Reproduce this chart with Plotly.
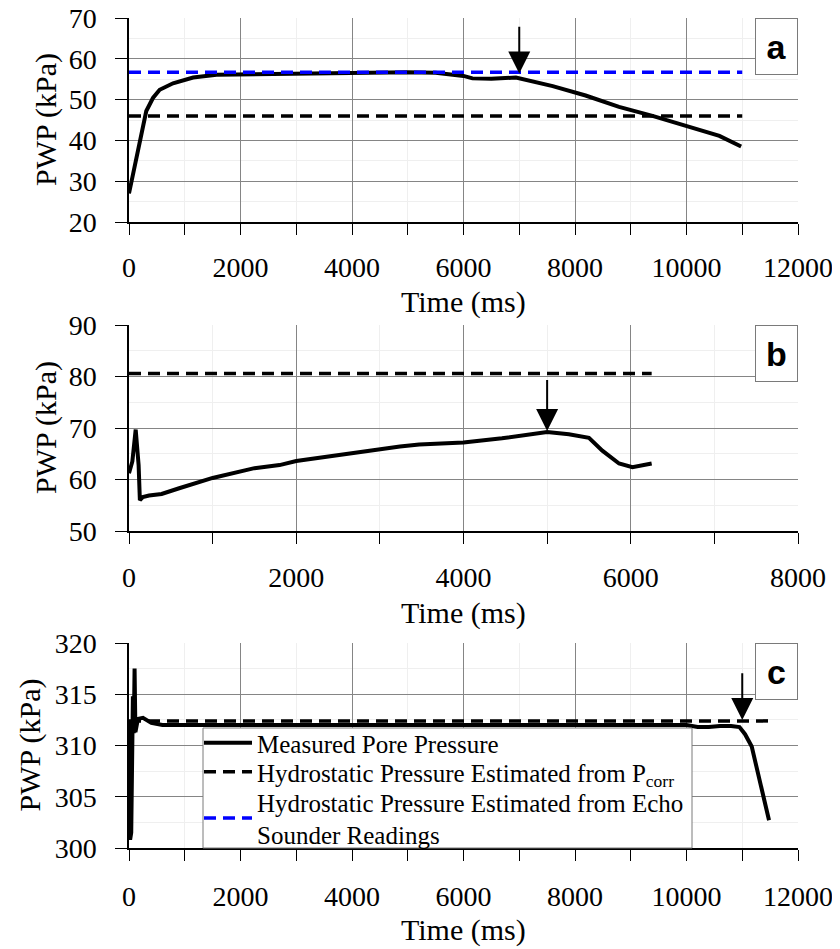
import plotly.graph_objects as go

# ---------------- data ----------------
a_time = [0, 70, 190, 310, 430, 550, 790, 1150, 1570, 2000, 3000, 4000, 5000, 5500, 6000, 6160, 6500, 6940,
          7600, 8190, 8790, 9390, 9990, 10590, 10980]
a_pwp = [27.0, 31.8, 40.0, 47.2, 50.4, 52.4, 54.0, 55.4, 56.1, 56.2, 56.3, 56.5, 56.7, 56.6, 55.8, 55.2, 55.1, 55.4,
         53.3, 51.0, 48.2, 46.0, 43.5, 41.1, 38.5]
a_hydro_time = [0, 11000]
a_hydro_pcorr = [46.0, 46.0]
a_hydro_echo = [56.7, 56.7]

b_time = [0, 40, 80, 115, 130, 165, 240, 390, 600, 1000, 1500, 1800, 2000, 2440, 2840, 3240, 3470, 4000, 4460,
          5000, 5260, 5500, 5660, 5860, 6020, 6250]
b_pwp = [61.2, 63.5, 69.7, 62.8, 56.0, 56.6, 56.9, 57.2, 58.3, 60.3, 62.2, 62.8, 63.6, 64.6, 65.6, 66.4, 66.8, 67.2,
         68.0, 69.2, 68.8, 68.1, 65.6, 63.1, 62.4, 63.1]
b_hydro_time = [0, 6250]
b_hydro_pcorr = [80.6, 80.6]

c_time = [0, 5, 20, 40, 55, 70, 85, 100, 115, 135, 160, 250, 400, 600, 1000, 2000, 4000, 6000, 8000, 10000,
          10200, 10400, 10600, 10800, 10950, 11050, 11170, 11320, 11480]
c_pwp = [312.4, 304.5, 300.8, 301.5, 309.0, 314.8, 311.2, 317.5, 311.3, 312.0, 312.6, 312.7, 312.2, 312.0, 312.0,
         312.0, 312.0, 312.0, 312.0, 312.0, 311.8, 311.8, 311.9, 311.9, 311.8, 311.1, 309.9, 306.6, 302.7]
c_hydro_time = [0, 11500]
c_hydro_pcorr = [312.4, 312.4]

# arrows: (x, y_tip, y_tail)
arrows = [("x", "y", 7000, 56.4, 68.2),
          ("x2", "y2", 5000, 69.4, 79.6),
          ("x3", "y3", 11000, 312.5, 317.2)]

names = ["Measured Pore Pressure",
         "Hydrostatic Pressure Estimated from P<sub>corr</sub>",
         "Hydrostatic Pressure Estimated from Echo<br>Sounder Readings"]

SERIF = "Liberation Serif, Times New Roman, serif"
DASH = "12px,7px"

fig = go.Figure()

# panel a
fig.add_trace(go.Scatter(x=a_time, y=a_pwp, mode="lines", name=names[0], legend="legend",
                         line=dict(color="black", width=4), xaxis="x", yaxis="y"))
fig.add_trace(go.Scatter(x=a_hydro_time, y=a_hydro_pcorr, mode="lines", name=names[1], legend="legend2",
                         line=dict(color="black", width=3.5, dash=DASH), xaxis="x", yaxis="y"))
fig.add_trace(go.Scatter(x=a_hydro_time, y=a_hydro_echo, mode="lines", name=names[2], legend="legend3",
                         line=dict(color="#0000ff", width=3.5, dash=DASH), xaxis="x", yaxis="y"))
# panel b
fig.add_trace(go.Scatter(x=b_hydro_time, y=b_hydro_pcorr, mode="lines", showlegend=False,
                         line=dict(color="black", width=3.5, dash=DASH), xaxis="x2", yaxis="y2"))
fig.add_trace(go.Scatter(x=b_time, y=b_pwp, mode="lines", showlegend=False,
                         line=dict(color="black", width=4), xaxis="x2", yaxis="y2"))
# panel c
fig.add_trace(go.Scatter(x=c_hydro_time, y=c_hydro_pcorr, mode="lines", showlegend=False,
                         line=dict(color="black", width=3.5, dash=DASH), xaxis="x3", yaxis="y3"))
fig.add_trace(go.Scatter(x=c_time, y=c_pwp, mode="lines", showlegend=False,
                         line=dict(color="black", width=4), xaxis="x3", yaxis="y3"))

# page is offset by an 8px body margin: work in page pixels, convert to figure pixels
OFF = 8
W, H = 840 - OFF, 949 - OFF
L = 129 - OFF
T = 18 - OFF
PR, PB = 798 - OFF, 848 - OFF
R, B = W - PR, H - PB
pw, ph = PR - L, PB - T


def py(page_y):
    return (PB - (page_y - OFF)) / ph


def px(page_x):
    return ((page_x - OFF) - L) / pw


def xaxis(rng, dtick, anchor, standoff):
    return dict(range=rng, dtick=dtick, tick0=0, domain=[0, 1], anchor=anchor, automargin=False,
                showline=True, linecolor="black", linewidth=1.5,
                ticks="outside", ticklen=11, tickcolor="black", tickwidth=1.3,
                showgrid=True, gridcolor="#858585", gridwidth=1, zeroline=False,
                exponentformat="none", separatethousands=False, tickformat="d",
                tickfont=dict(family=SERIF, size=28, color="black"),
                ticklabelstandoff=standoff, ticklabeloverflow="allow",
                minor=dict(dtick=dtick / 2, ticks="outside", ticklen=11, tickcolor="black",
                           tickwidth=1.3, showgrid=True, gridcolor="#efefef", gridwidth=1))


def yaxis(rng, dtick, top, bot, anchor):
    return dict(range=rng, dtick=dtick, tick0=0, domain=[py(bot), py(top)], anchor=anchor, automargin=False,
                showline=True, linecolor="black", linewidth=1.5,
                ticks="outside", ticklen=12, tickcolor="black", tickwidth=1.3,
                showgrid=True, gridcolor="#858585", gridwidth=1, zeroline=False,
                tickfont=dict(family=SERIF, size=28, color="black"),
                ticklabelstandoff=13, ticklabeloverflow="allow",
                minor=dict(dtick=dtick / 2, showgrid=True, gridcolor="#efefef", gridwidth=1))


annotations = []
for xr, yr, xv, ytip, ytail in arrows:
    annotations.append(dict(x=xv, y=ytip, ax=xv, ay=ytail, xref=xr, yref=yr, axref=xr, ayref=yr,
                            text="", showarrow=True, arrowhead=2, arrowsize=2.2, arrowwidth=2,
                            arrowcolor="black", standoff=0))

for lab, xr, yr in [("a", "x", "y"), ("b", "x2", "y2"), ("c", "x3", "y3")]:
    annotations.append(dict(text="<b>%s</b>" % lab, xref=xr + " domain", yref=yr + " domain",
                            x=1, y=1, xanchor="right", yanchor="top", showarrow=False,
                            font=dict(family="Liberation Sans, Arial, sans-serif", size=34, color="black"),
                            bgcolor="white", bordercolor="#7a7a7a", borderwidth=1,
                            borderpad=0, width=41, height=55))

for ypix in [302, 613, 930]:
    annotations.append(dict(text="Time (ms)", xref="paper", yref="paper", x=0.5, y=py(ypix),
                            xanchor="center", yanchor="middle", showarrow=False,
                            font=dict(family=SERIF, size=30, color="black")))

for xpix, (t, b) in zip([46, 46, 29], [(18, 222), (325, 531), (643, 848)]):
    annotations.append(dict(text="PWP (kPa)", xref="paper", yref="paper", x=px(xpix),
                            y=py((t + b) / 2), xanchor="center", yanchor="middle",
                            textangle=-90, showarrow=False,
                            font=dict(family=SERIF, size=30, color="black")))

# legend frame (panel c)
shapes = [dict(type="rect", xref="paper", yref="paper", x0=px(203), x1=px(692), y0=py(848), y1=py(728),
               fillcolor="white", line=dict(color="#7a7a7a", width=1), layer="above")]


def leg(page_y):
    return dict(x=px(199), y=py(page_y), xanchor="left", yanchor="middle",
                bgcolor="rgba(0,0,0,0)", borderwidth=0,
                font=dict(family=SERIF, size=25, color="black"), itemwidth=48)


fig.update_layout(
    width=W, height=H,
    margin=dict(l=L, r=R, t=T, b=B, autoexpand=False),
    paper_bgcolor="white", plot_bgcolor="white",
    xaxis=xaxis([0, 12000], 2000, "y", 9),
    yaxis=yaxis([20, 70], 10, 18, 222, "x"),
    xaxis2=xaxis([0, 8000], 2000, "y2", 10),
    yaxis2=yaxis([50, 90], 10, 325, 531, "x2"),
    xaxis3=xaxis([0, 12000], 2000, "y3", 12),
    yaxis3=yaxis([300, 320], 5, 643, 848, "x3"),
    showlegend=True,
    legend=leg(743),
    legend2=leg(772),
    legend3=leg(818),
    shapes=shapes,
    annotations=annotations,
)

fig.write_html("out.html")
